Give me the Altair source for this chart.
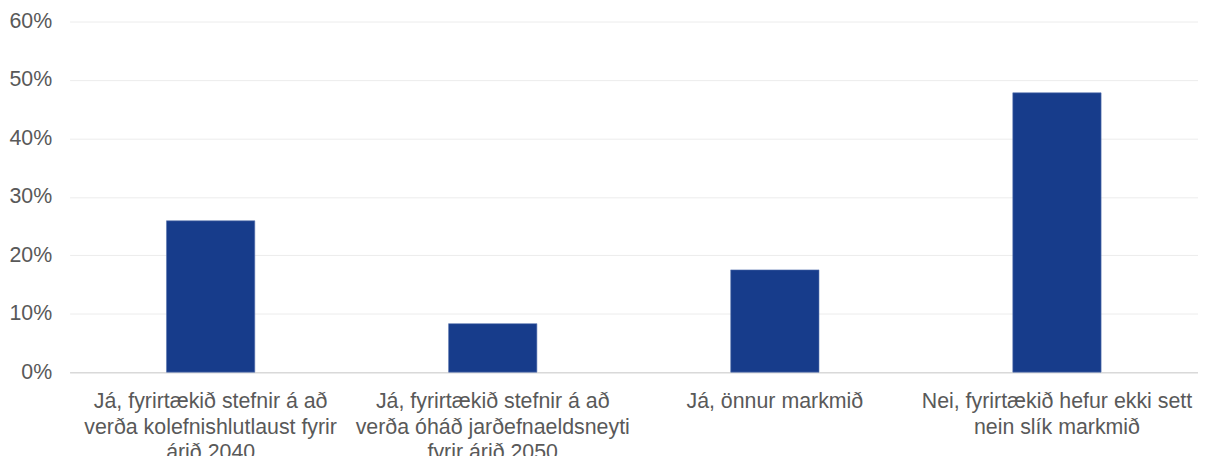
import altair as alt
import pandas as pd

categories = [
    "Já, fyrirtækið stefnir á að\nverða kolefnishlutlaust fyrir\nárið 2040",
    "Já, fyrirtækið stefnir á að\nverða óháð jarðefnaeldsneyti\nfyrir árið 2050",
    "Já, önnur markmið",
    "Nei, fyrirtækið hefur ekki sett\nnein slík markmið",
]
values = [0.259, 0.083, 0.175, 0.478]

df = pd.DataFrame({"cat": categories, "val": values})

chart = alt.Chart(df).mark_bar(color="#173C8B", stroke="#5a74b0", strokeWidth=0.6).encode(
    x=alt.X("cat:N", sort=categories, title=None,
            scale=alt.Scale(paddingInner=0.687, paddingOuter=0.3435),
            axis=alt.Axis(labelAngle=0, labelExpr="split(datum.label, '\\n')",
                          labelFont="Liberation Sans", labelFontSize=21.5,
                          labelColor="#595959", labelLineHeight=25.5,
                          labelPadding=19, ticks=False, domainColor="#d9d9d9",
                          domainWidth=1.5, labelLimit=400)),
    y=alt.Y("val:Q", title=None,
            scale=alt.Scale(domain=[0, 0.6], nice=False),
            axis=alt.Axis(format=".0%", values=[0, 0.1, 0.2, 0.3, 0.4, 0.5, 0.6],
                          labelFont="Liberation Sans", labelFontSize=21.5,
                          labelColor="#595959", labelPadding=18, ticks=False,
                          domain=False, gridColor="#ececec", gridWidth=1)),
).properties(
    width=1136, height=353,
    autosize=alt.AutoSizeParams(type="none"),
    padding={"left": 62, "top": 12, "right": 0, "bottom": 110},
).configure_view(stroke=None)

chart.save("out.html", embed_options={"renderer": "svg", "actions": False})
